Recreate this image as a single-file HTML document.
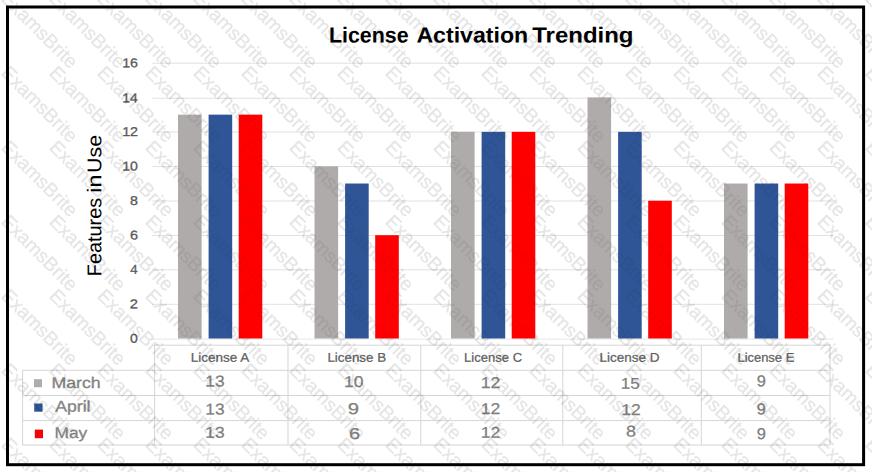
<!DOCTYPE html>
<html><head><meta charset="utf-8"><title>License Activation Trending</title>
<style>html,body{margin:0;padding:0;background:#fff;}body{width:872px;height:472px;overflow:hidden;font-family:"Liberation Sans",sans-serif;}svg{display:block;}text{font-family:"Liberation Sans",sans-serif;}</style>
</head><body>
<svg width="872" height="472" viewBox="0 0 872 472">
<rect x="0" y="0" width="872" height="472" fill="#ffffff"/>
<g>
<g stroke="#e1e1e1" stroke-width="1">
<line x1="152.3" y1="304.30" x2="833.7" y2="304.30"/>
<line x1="152.3" y1="269.80" x2="833.7" y2="269.80"/>
<line x1="152.3" y1="235.50" x2="833.7" y2="235.50"/>
<line x1="152.3" y1="201.00" x2="833.7" y2="201.00"/>
<line x1="152.3" y1="166.50" x2="833.7" y2="166.50"/>
<line x1="152.3" y1="132.00" x2="833.7" y2="132.00"/>
<line x1="152.3" y1="98.20" x2="833.7" y2="98.20"/>
<line x1="152.3" y1="63.20" x2="833.7" y2="63.20"/>
<line x1="152.3" y1="339.1" x2="833.7" y2="339.1" stroke="#e6e6e6"/>
</g>
<text transform="translate(130.04,342.65) rotate(0.03) scale(1.0962,1)" font-size="12.8" fill="#595959" stroke="#595959" stroke-width="0.3">0</text>
<text transform="translate(129.86,308.35) rotate(0.03) scale(1.1504,1)" font-size="12.8" fill="#595959" stroke="#595959" stroke-width="0.3">2</text>
<text transform="translate(130.30,273.85) rotate(0.03) scale(1.0365,1)" font-size="12.8" fill="#595959" stroke="#595959" stroke-width="0.3">4</text>
<text transform="translate(129.88,239.55) rotate(0.03) scale(1.1318,1)" font-size="12.8" fill="#595959" stroke="#595959" stroke-width="0.3">6</text>
<text transform="translate(129.99,205.05) rotate(0.03) scale(1.1137,1)" font-size="12.8" fill="#595959" stroke="#595959" stroke-width="0.3">8</text>
<text transform="translate(122.14,170.55) rotate(0.03) scale(1.1043,1)" font-size="12.8" fill="#595959" stroke="#595959" stroke-width="0.3">10</text>
<text transform="translate(122.13,136.05) rotate(0.03) scale(1.1183,1)" font-size="12.8" fill="#595959" stroke="#595959" stroke-width="0.3">12</text>
<text transform="translate(122.15,102.25) rotate(0.03) scale(1.0934,1)" font-size="12.8" fill="#595959" stroke="#595959" stroke-width="0.3">14</text>
<text transform="translate(122.13,67.25) rotate(0.03) scale(1.1099,1)" font-size="12.8" fill="#595959" stroke="#595959" stroke-width="0.3">16</text>
<rect x="178.00" y="114.64" width="23.6" height="223.86" fill="#AFABAB"/>
<rect x="208.60" y="114.64" width="23.6" height="223.86" fill="#2F5597"/>
<rect x="238.70" y="114.64" width="23.6" height="223.86" fill="#FF0000"/>
<rect x="314.50" y="166.30" width="23.6" height="172.20" fill="#AFABAB"/>
<rect x="345.10" y="183.52" width="23.6" height="154.98" fill="#2F5597"/>
<rect x="375.20" y="235.18" width="23.6" height="103.32" fill="#FF0000"/>
<rect x="451.00" y="131.86" width="23.6" height="206.64" fill="#AFABAB"/>
<rect x="481.60" y="131.86" width="23.6" height="206.64" fill="#2F5597"/>
<rect x="511.70" y="131.86" width="23.6" height="206.64" fill="#FF0000"/>
<rect x="587.50" y="97.42" width="23.6" height="241.08" fill="#AFABAB"/>
<rect x="618.10" y="131.86" width="23.6" height="206.64" fill="#2F5597"/>
<rect x="648.20" y="200.74" width="23.6" height="137.76" fill="#FF0000"/>
<rect x="724.00" y="183.52" width="23.6" height="154.98" fill="#AFABAB"/>
<rect x="754.60" y="183.52" width="23.6" height="154.98" fill="#2F5597"/>
<rect x="784.70" y="183.52" width="23.6" height="154.98" fill="#FF0000"/>
<g stroke="#d5d5d5" stroke-width="1">
<line x1="154.6" y1="345.2" x2="154.6" y2="445"/>
<line x1="288.0" y1="345.2" x2="288.0" y2="445"/>
<line x1="420.8" y1="345.2" x2="420.8" y2="445"/>
<line x1="562.8" y1="345.2" x2="562.8" y2="445"/>
<line x1="701.3" y1="345.2" x2="701.3" y2="445"/>
<line x1="830.0" y1="345.2" x2="830.0" y2="445"/>
<line x1="22.6" y1="370.3" x2="22.6" y2="445"/>
<line x1="154.6" y1="345.2" x2="830.0" y2="345.2"/>
<line x1="22.6" y1="370.3" x2="830.0" y2="370.3"/>
<line x1="22.6" y1="395.5" x2="830.0" y2="395.5"/>
<line x1="22.6" y1="420.6" x2="830.0" y2="420.6"/>
<line x1="22.6" y1="445.0" x2="830.0" y2="445.0"/>
</g>
<rect x="34" y="379.2" width="8" height="8" fill="#AFABAB"/>
<rect x="34.2" y="403.5" width="8.3" height="8.2" fill="#2F5597"/>
<rect x="34.8" y="429.6" width="8.2" height="8.6" fill="#F00408"/>
<text transform="translate(51.44,388.00) rotate(0.03) scale(1.1530,1)" font-size="15.4" fill="#858585" stroke="#808080" stroke-width="0.3">March</text>
<text transform="translate(55.26,411.50) rotate(0.03) scale(1.1439,1)" font-size="15.4" fill="#858585" stroke="#808080" stroke-width="0.3">April</text>
<text transform="translate(54.47,438.10) rotate(0.03) scale(1.1260,1)" font-size="15.4" fill="#858585" stroke="#808080" stroke-width="0.3">May</text>
<text transform="translate(190.68,361.80) rotate(0.03) scale(1.0665,1)" font-size="12.7" fill="#5f5f5f" stroke="#5f5f5f" stroke-width="0.25">License A</text>
<text transform="translate(327.40,361.80) rotate(0.03) scale(1.0542,1)" font-size="12.7" fill="#5f5f5f" stroke="#5f5f5f" stroke-width="0.25">License B</text>
<text transform="translate(464.02,361.80) rotate(0.03) scale(1.0286,1)" font-size="12.7" fill="#5f5f5f" stroke="#5f5f5f" stroke-width="0.25">License C</text>
<text transform="translate(599.39,361.80) rotate(0.03) scale(1.0632,1)" font-size="12.7" fill="#5f5f5f" stroke="#5f5f5f" stroke-width="0.25">License D</text>
<text transform="translate(737.43,361.80) rotate(0.03) scale(1.0203,1)" font-size="12.7" fill="#5f5f5f" stroke="#5f5f5f" stroke-width="0.25">License E</text>
<text transform="translate(205.30,386.44) rotate(0.03) scale(1.1109,1)" font-size="15.6" fill="#7f7f7f" stroke="#7f7f7f" stroke-width="0.25">13</text>
<text transform="translate(205.30,414.49) rotate(0.03) scale(1.1109,1)" font-size="15.6" fill="#7f7f7f" stroke="#7f7f7f" stroke-width="0.25">13</text>
<text transform="translate(205.30,437.74) rotate(0.03) scale(1.1109,1)" font-size="15.6" fill="#7f7f7f" stroke="#7f7f7f" stroke-width="0.25">13</text>
<text transform="translate(343.98,387.04) rotate(0.03) scale(1.1246,1)" font-size="15.6" fill="#7f7f7f" stroke="#7f7f7f" stroke-width="0.25">10</text>
<text transform="translate(347.83,413.89) rotate(0.03) scale(1.3028,1)" font-size="15.6" fill="#7f7f7f" stroke="#7f7f7f" stroke-width="0.25">9</text>
<text transform="translate(348.91,438.89) rotate(0.03) scale(1.2751,1)" font-size="15.6" fill="#7f7f7f" stroke="#7f7f7f" stroke-width="0.25">6</text>
<text transform="translate(480.78,387.89) rotate(0.03) scale(1.1324,1)" font-size="15.6" fill="#7f7f7f" stroke="#7f7f7f" stroke-width="0.25">12</text>
<text transform="translate(480.78,413.89) rotate(0.03) scale(1.1324,1)" font-size="15.6" fill="#7f7f7f" stroke="#7f7f7f" stroke-width="0.25">12</text>
<text transform="translate(480.78,437.79) rotate(0.03) scale(1.1324,1)" font-size="15.6" fill="#7f7f7f" stroke="#7f7f7f" stroke-width="0.25">12</text>
<text transform="translate(620.83,388.74) rotate(0.03) scale(1.0888,1)" font-size="15.6" fill="#7f7f7f" stroke="#7f7f7f" stroke-width="0.25">15</text>
<text transform="translate(621.28,414.89) rotate(0.03) scale(1.1259,1)" font-size="15.6" fill="#7f7f7f" stroke="#7f7f7f" stroke-width="0.25">12</text>
<text transform="translate(626.03,436.59) rotate(0.03) scale(1.1593,1)" font-size="15.6" fill="#7f7f7f" stroke="#7f7f7f" stroke-width="0.25">8</text>
<text transform="translate(756.82,386.34) rotate(0.03) scale(1.0534,1)" font-size="15.6" fill="#7f7f7f" stroke="#7f7f7f" stroke-width="0.25">9</text>
<text transform="translate(756.82,414.34) rotate(0.03) scale(1.0534,1)" font-size="15.6" fill="#7f7f7f" stroke="#7f7f7f" stroke-width="0.25">9</text>
<text transform="translate(756.82,438.89) rotate(0.03) scale(1.0534,1)" font-size="15.6" fill="#7f7f7f" stroke="#7f7f7f" stroke-width="0.25">9</text>
<text transform="translate(328.96,42.50) rotate(0.03) scale(0.9814,1)" font-size="21.8" fill="#000000" font-weight="bold">License</text>
<text transform="translate(416.42,42.50) rotate(0.03) scale(1.0609,1)" font-size="21.8" fill="#000000" font-weight="bold">Activation</text>
<text transform="translate(532.26,42.50) rotate(0.03) scale(1.1005,1)" font-size="21.8" fill="#000000" font-weight="bold">Trending</text>
<text transform="translate(101.2,276.24) rotate(-90.03) scale(0.9985,1)" font-size="19.9" fill="#000000">Features</text>
<text transform="translate(101.2,192.67) rotate(-90.03) scale(1.1686,1)" font-size="19.9" fill="#000000">in</text>
<text transform="translate(101.2,172.96) rotate(-90.03) scale(1.0763,1)" font-size="19.9" fill="#000000">Use</text>
<rect x="7.5" y="7.0" width="856.1" height="457.7" fill="none" stroke="#000000" stroke-width="3"/>
</g>
<mask id="wmk" maskUnits="userSpaceOnUse" x="0" y="0" width="872" height="472"><rect x="0" y="0" width="872" height="472" fill="#ffffff"/><rect x="178.00" y="114.64" width="23.6" height="223.86" fill="#999999"/><rect x="208.60" y="114.64" width="23.6" height="223.86" fill="#707070"/><rect x="238.70" y="114.64" width="23.6" height="223.86" fill="#5a5a5a"/><rect x="314.50" y="166.30" width="23.6" height="172.20" fill="#999999"/><rect x="345.10" y="183.52" width="23.6" height="154.98" fill="#707070"/><rect x="375.20" y="235.18" width="23.6" height="103.32" fill="#5a5a5a"/><rect x="451.00" y="131.86" width="23.6" height="206.64" fill="#999999"/><rect x="481.60" y="131.86" width="23.6" height="206.64" fill="#707070"/><rect x="511.70" y="131.86" width="23.6" height="206.64" fill="#5a5a5a"/><rect x="587.50" y="97.42" width="23.6" height="241.08" fill="#999999"/><rect x="618.10" y="131.86" width="23.6" height="206.64" fill="#707070"/><rect x="648.20" y="200.74" width="23.6" height="137.76" fill="#5a5a5a"/><rect x="724.00" y="183.52" width="23.6" height="154.98" fill="#999999"/><rect x="754.60" y="183.52" width="23.6" height="154.98" fill="#707070"/><rect x="784.70" y="183.52" width="23.6" height="154.98" fill="#5a5a5a"/></mask>
<g mask="url(#wmk)"><g fill="#000000" stroke="#000000" stroke-width="0.35" opacity="0.105" font-size="19.3">
<text transform="translate(0.2,-0.2) rotate(45)">ExamsBrite</text>
<text transform="translate(48.2,-0.2) rotate(45)">ExamsBrite</text>
<text transform="translate(96.2,-0.2) rotate(45)">ExamsBrite</text>
<text transform="translate(144.2,-0.2) rotate(45)">ExamsBrite</text>
<text transform="translate(192.2,-0.2) rotate(45)">ExamsBrite</text>
<text transform="translate(240.2,-0.2) rotate(45)">ExamsBrite</text>
<text transform="translate(288.2,-0.2) rotate(45)">ExamsBrite</text>
<text transform="translate(336.2,-0.2) rotate(45)">ExamsBrite</text>
<text transform="translate(384.2,-0.2) rotate(45)">ExamsBrite</text>
<text transform="translate(432.2,-0.2) rotate(45)">ExamsBrite</text>
<text transform="translate(480.2,-0.2) rotate(45)">ExamsBrite</text>
<text transform="translate(528.2,-0.2) rotate(45)">ExamsBrite</text>
<text transform="translate(576.2,-0.2) rotate(45)">ExamsBrite</text>
<text transform="translate(624.2,-0.2) rotate(45)">ExamsBrite</text>
<text transform="translate(672.2,-0.2) rotate(45)">ExamsBrite</text>
<text transform="translate(720.2,-0.2) rotate(45)">ExamsBrite</text>
<text transform="translate(768.2,-0.2) rotate(45)">ExamsBrite</text>
<text transform="translate(816.2,-0.2) rotate(45)">ExamsBrite</text>
<text transform="translate(864.2,-0.2) rotate(45)">ExamsBrite</text>
<text transform="translate(0.2,74.1) rotate(45)">ExamsBrite</text>
<text transform="translate(48.2,74.1) rotate(45)">ExamsBrite</text>
<text transform="translate(96.2,74.1) rotate(45)">ExamsBrite</text>
<text transform="translate(144.2,74.1) rotate(45)">ExamsBrite</text>
<text transform="translate(192.2,74.1) rotate(45)">ExamsBrite</text>
<text transform="translate(240.2,74.1) rotate(45)">ExamsBrite</text>
<text transform="translate(288.2,74.1) rotate(45)">ExamsBrite</text>
<text transform="translate(336.2,74.1) rotate(45)">ExamsBrite</text>
<text transform="translate(384.2,74.1) rotate(45)">ExamsBrite</text>
<text transform="translate(432.2,74.1) rotate(45)">ExamsBrite</text>
<text transform="translate(480.2,74.1) rotate(45)">ExamsBrite</text>
<text transform="translate(528.2,74.1) rotate(45)">ExamsBrite</text>
<text transform="translate(576.2,74.1) rotate(45)">ExamsBrite</text>
<text transform="translate(624.2,74.1) rotate(45)">ExamsBrite</text>
<text transform="translate(672.2,74.1) rotate(45)">ExamsBrite</text>
<text transform="translate(720.2,74.1) rotate(45)">ExamsBrite</text>
<text transform="translate(768.2,74.1) rotate(45)">ExamsBrite</text>
<text transform="translate(816.2,74.1) rotate(45)">ExamsBrite</text>
<text transform="translate(864.2,74.1) rotate(45)">ExamsBrite</text>
<text transform="translate(0.2,148.4) rotate(45)">ExamsBrite</text>
<text transform="translate(48.2,148.4) rotate(45)">ExamsBrite</text>
<text transform="translate(96.2,148.4) rotate(45)">ExamsBrite</text>
<text transform="translate(144.2,148.4) rotate(45)">ExamsBrite</text>
<text transform="translate(192.2,148.4) rotate(45)">ExamsBrite</text>
<text transform="translate(240.2,148.4) rotate(45)">ExamsBrite</text>
<text transform="translate(288.2,148.4) rotate(45)">ExamsBrite</text>
<text transform="translate(336.2,148.4) rotate(45)">ExamsBrite</text>
<text transform="translate(384.2,148.4) rotate(45)">ExamsBrite</text>
<text transform="translate(432.2,148.4) rotate(45)">ExamsBrite</text>
<text transform="translate(480.2,148.4) rotate(45)">ExamsBrite</text>
<text transform="translate(528.2,148.4) rotate(45)">ExamsBrite</text>
<text transform="translate(576.2,148.4) rotate(45)">ExamsBrite</text>
<text transform="translate(624.2,148.4) rotate(45)">ExamsBrite</text>
<text transform="translate(672.2,148.4) rotate(45)">ExamsBrite</text>
<text transform="translate(720.2,148.4) rotate(45)">ExamsBrite</text>
<text transform="translate(768.2,148.4) rotate(45)">ExamsBrite</text>
<text transform="translate(816.2,148.4) rotate(45)">ExamsBrite</text>
<text transform="translate(864.2,148.4) rotate(45)">ExamsBrite</text>
<text transform="translate(0.2,222.7) rotate(45)">ExamsBrite</text>
<text transform="translate(48.2,222.7) rotate(45)">ExamsBrite</text>
<text transform="translate(96.2,222.7) rotate(45)">ExamsBrite</text>
<text transform="translate(144.2,222.7) rotate(45)">ExamsBrite</text>
<text transform="translate(192.2,222.7) rotate(45)">ExamsBrite</text>
<text transform="translate(240.2,222.7) rotate(45)">ExamsBrite</text>
<text transform="translate(288.2,222.7) rotate(45)">ExamsBrite</text>
<text transform="translate(336.2,222.7) rotate(45)">ExamsBrite</text>
<text transform="translate(384.2,222.7) rotate(45)">ExamsBrite</text>
<text transform="translate(432.2,222.7) rotate(45)">ExamsBrite</text>
<text transform="translate(480.2,222.7) rotate(45)">ExamsBrite</text>
<text transform="translate(528.2,222.7) rotate(45)">ExamsBrite</text>
<text transform="translate(576.2,222.7) rotate(45)">ExamsBrite</text>
<text transform="translate(624.2,222.7) rotate(45)">ExamsBrite</text>
<text transform="translate(672.2,222.7) rotate(45)">ExamsBrite</text>
<text transform="translate(720.2,222.7) rotate(45)">ExamsBrite</text>
<text transform="translate(768.2,222.7) rotate(45)">ExamsBrite</text>
<text transform="translate(816.2,222.7) rotate(45)">ExamsBrite</text>
<text transform="translate(864.2,222.7) rotate(45)">ExamsBrite</text>
<text transform="translate(0.2,297.0) rotate(45)">ExamsBrite</text>
<text transform="translate(48.2,297.0) rotate(45)">ExamsBrite</text>
<text transform="translate(96.2,297.0) rotate(45)">ExamsBrite</text>
<text transform="translate(144.2,297.0) rotate(45)">ExamsBrite</text>
<text transform="translate(192.2,297.0) rotate(45)">ExamsBrite</text>
<text transform="translate(240.2,297.0) rotate(45)">ExamsBrite</text>
<text transform="translate(288.2,297.0) rotate(45)">ExamsBrite</text>
<text transform="translate(336.2,297.0) rotate(45)">ExamsBrite</text>
<text transform="translate(384.2,297.0) rotate(45)">ExamsBrite</text>
<text transform="translate(432.2,297.0) rotate(45)">ExamsBrite</text>
<text transform="translate(480.2,297.0) rotate(45)">ExamsBrite</text>
<text transform="translate(528.2,297.0) rotate(45)">ExamsBrite</text>
<text transform="translate(576.2,297.0) rotate(45)">ExamsBrite</text>
<text transform="translate(624.2,297.0) rotate(45)">ExamsBrite</text>
<text transform="translate(672.2,297.0) rotate(45)">ExamsBrite</text>
<text transform="translate(720.2,297.0) rotate(45)">ExamsBrite</text>
<text transform="translate(768.2,297.0) rotate(45)">ExamsBrite</text>
<text transform="translate(816.2,297.0) rotate(45)">ExamsBrite</text>
<text transform="translate(864.2,297.0) rotate(45)">ExamsBrite</text>
<text transform="translate(0.2,371.3) rotate(45)">ExamsBrite</text>
<text transform="translate(48.2,371.3) rotate(45)">ExamsBrite</text>
<text transform="translate(96.2,371.3) rotate(45)">ExamsBrite</text>
<text transform="translate(144.2,371.3) rotate(45)">ExamsBrite</text>
<text transform="translate(192.2,371.3) rotate(45)">ExamsBrite</text>
<text transform="translate(240.2,371.3) rotate(45)">ExamsBrite</text>
<text transform="translate(288.2,371.3) rotate(45)">ExamsBrite</text>
<text transform="translate(336.2,371.3) rotate(45)">ExamsBrite</text>
<text transform="translate(384.2,371.3) rotate(45)">ExamsBrite</text>
<text transform="translate(432.2,371.3) rotate(45)">ExamsBrite</text>
<text transform="translate(480.2,371.3) rotate(45)">ExamsBrite</text>
<text transform="translate(528.2,371.3) rotate(45)">ExamsBrite</text>
<text transform="translate(576.2,371.3) rotate(45)">ExamsBrite</text>
<text transform="translate(624.2,371.3) rotate(45)">ExamsBrite</text>
<text transform="translate(672.2,371.3) rotate(45)">ExamsBrite</text>
<text transform="translate(720.2,371.3) rotate(45)">ExamsBrite</text>
<text transform="translate(768.2,371.3) rotate(45)">ExamsBrite</text>
<text transform="translate(816.2,371.3) rotate(45)">ExamsBrite</text>
<text transform="translate(864.2,371.3) rotate(45)">ExamsBrite</text>
<text transform="translate(0.2,445.6) rotate(45)">ExamsBrite</text>
<text transform="translate(48.2,445.6) rotate(45)">ExamsBrite</text>
<text transform="translate(96.2,445.6) rotate(45)">ExamsBrite</text>
<text transform="translate(144.2,445.6) rotate(45)">ExamsBrite</text>
<text transform="translate(192.2,445.6) rotate(45)">ExamsBrite</text>
<text transform="translate(240.2,445.6) rotate(45)">ExamsBrite</text>
<text transform="translate(288.2,445.6) rotate(45)">ExamsBrite</text>
<text transform="translate(336.2,445.6) rotate(45)">ExamsBrite</text>
<text transform="translate(384.2,445.6) rotate(45)">ExamsBrite</text>
<text transform="translate(432.2,445.6) rotate(45)">ExamsBrite</text>
<text transform="translate(480.2,445.6) rotate(45)">ExamsBrite</text>
<text transform="translate(528.2,445.6) rotate(45)">ExamsBrite</text>
<text transform="translate(576.2,445.6) rotate(45)">ExamsBrite</text>
<text transform="translate(624.2,445.6) rotate(45)">ExamsBrite</text>
<text transform="translate(672.2,445.6) rotate(45)">ExamsBrite</text>
<text transform="translate(720.2,445.6) rotate(45)">ExamsBrite</text>
<text transform="translate(768.2,445.6) rotate(45)">ExamsBrite</text>
<text transform="translate(816.2,445.6) rotate(45)">ExamsBrite</text>
<text transform="translate(864.2,445.6) rotate(45)">ExamsBrite</text>
</g></g>
</svg>
</body></html>
